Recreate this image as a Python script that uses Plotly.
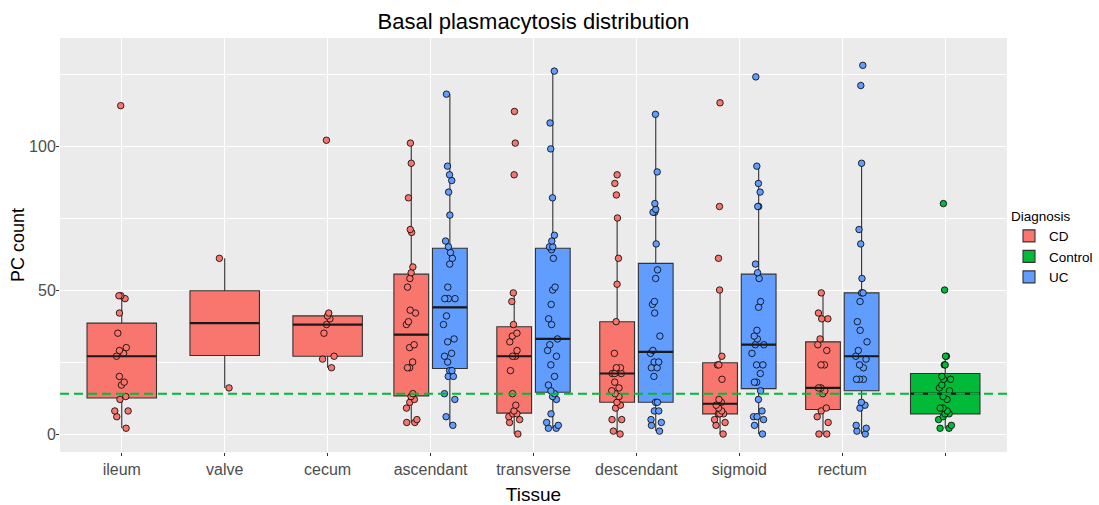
import numpy as np
import plotly.graph_objects as go

# ---------------- data ----------------
tissues = ["ileum", "valve", "cecum", "ascendant", "transverse",
           "descendant", "sigmoid", "rectum", ""]

cd_ileum = [114, 48, 48, 47, 42, 35, 30, 29, 28, 27, 20, 18, 17, 13, 12, 8, 8, 6, 2]
cd_valve = [61, 16]
cd_cecum = [102, 42, 41, 40, 38, 35, 27, 26, 23]
cd_ascendant = [101, 94, 82, 71, 70, 58, 56, 54, 51, 43, 42, 39, 38, 31, 30, 25, 23, 23,
                14, 13, 12, 11, 9, 5, 4, 4]
cd_transverse = [112, 101, 90, 49, 46, 38, 35, 34, 32, 29, 27, 27, 22, 14, 10, 8, 7, 7, 6, 5, 4, 0]
cd_descendant = [90, 87, 83, 75, 61, 52, 39, 28, 23, 23, 21, 21, 21, 18, 16, 15, 14, 13, 11,
                 10, 9, 5, 5, 1, 0]
cd_sigmoid = [115, 79, 61, 50, 27, 24, 24, 19, 12, 11, 10, 9, 8, 7, 7, 7, 5, 4, 3, 0]
cd_rectum = [49, 42, 40, 40, 33, 31, 29, 24, 24, 16, 16, 15, 14, 9, 8, 6, 4, 0, 0]

uc_ascendant = [118, 93, 90, 88, 84, 76, 67, 65, 63, 61, 59, 51, 47, 47, 47, 41, 38, 33, 32,
                28, 27, 25, 22, 22, 20, 20, 14, 12, 6, 3]
uc_transverse = [126, 108, 99, 82, 69, 67, 65, 65, 64, 61, 51, 50, 45, 40, 38, 33, 31, 29, 27,
                 24, 20, 17, 15, 14, 13, 12, 7, 4, 3, 2, 2]
uc_descendant = [111, 91, 80, 78, 77, 77, 66, 57, 54, 46, 45, 42, 34, 29, 28, 25, 25, 23, 23,
                 20, 11, 11, 8, 8, 5, 4, 3, 1]
uc_sigmoid = [124, 93, 87, 84, 79, 79, 59, 56, 54, 46, 44, 36, 34, 33, 31, 31, 28, 24, 24, 21,
              18, 18, 15, 12, 8, 6, 6, 5, 3, 0]
uc_rectum = [128, 121, 94, 71, 66, 54, 49, 49, 46, 39, 36, 32, 29, 27, 26, 24, 23, 19, 19, 19,
             11, 10, 9, 3, 2, 1, 0]

control_values = [80, 50, 27, 27, 24, 24, 20, 19, 19, 17, 16, 15, 13, 12, 9, 9, 8, 7, 7, 6, 5, 3, 2, 2]

groups = ["CD", "Control", "UC"]
colors = {"CD": "#F8766D", "Control": "#00BA38", "UC": "#619CFF"}

cd_data = {"ileum": cd_ileum, "valve": cd_valve, "cecum": cd_cecum,
           "ascendant": cd_ascendant, "transverse": cd_transverse,
           "descendant": cd_descendant, "sigmoid": cd_sigmoid, "rectum": cd_rectum}
uc_data = {"ascendant": uc_ascendant, "transverse": uc_transverse,
           "descendant": uc_descendant, "sigmoid": uc_sigmoid, "rectum": uc_rectum}
control_data = {"": control_values}
data_by_group = {"CD": cd_data, "Control": control_data, "UC": uc_data}

# ---------------- layout of boxes (ggplot dodge2 style) ----------------
DODGE = 0.75
PAD = 0.1


def box_stats(v):
    a = np.asarray(v, float)
    q1, med, q3 = np.percentile(a, [25, 50, 75])
    iqr = q3 - q1
    lo = a[a >= q1 - 1.5 * iqr].min()
    hi = a[a <= q3 + 1.5 * iqr].max()
    return q1, med, q3, lo, hi


entries = []
for ti, t in enumerate(tissues):
    present = [g for g in groups if t in data_by_group[g]]
    n = len(present)
    slot = DODGE / n
    for k, g in enumerate(present):
        center = (ti + 1) - DODGE / 2 + slot * (k + 0.5)
        width = slot * (1 - PAD)
        entries.append((g, t, center, width, data_by_group[g][t], n))

fig = go.Figure()
legend_done = set()
rank = {"CD": 1, "Control": 2, "UC": 3}

# boxes
for g, t, c, w, vals, n in entries:
    q1, med, q3, lo, hi = box_stats(vals)
    show = g not in legend_done
    legend_done.add(g)
    fig.add_trace(go.Box(
        x=[c], q1=[q1], median=[med], q3=[q3], lowerfence=[lo], upperfence=[hi],
        width=w, fillcolor=colors[g], line=dict(color="#333333", width=1.1),
        whiskerwidth=0, boxpoints=False, name=g, legendgroup=g,
        showlegend=show, legendrank=rank[g], hoverinfo="skip",
    ))

# medians (thicker, as in ggplot)
for g, t, c, w, vals, n in entries:
    med = float(np.median(vals))
    fig.add_trace(go.Scatter(
        x=[c - w / 2, c + w / 2], y=[med, med], mode="lines",
        line=dict(color="#1a1a1a", width=2.2), showlegend=False, hoverinfo="skip",
    ))

# jittered points
for g, t, c, w, vals, n in entries:
    fig.add_trace(go.Box(
        x=[c] * len(vals), y=vals, width=w,
        boxpoints="all", jitter=0.24 if n == 1 else 0.42, pointpos=0,
        fillcolor="rgba(0,0,0,0)", line=dict(color="rgba(0,0,0,0)", width=0),
        whiskerwidth=0,
        marker=dict(color=colors[g], size=6.5, line=dict(color="black", width=0.8)),
        showlegend=False, legendgroup=g, hoverinfo="y",
    ))

ctrl_median = float(np.median(control_values))
fig.add_shape(type="line", xref="paper", x0=0, x1=1, yref="y", y0=ctrl_median, y1=ctrl_median,
              line=dict(color="#00BA38", width=2, dash="9px,5px"), layer="above")

# y-axis title (placed as in the reference)
fig.add_annotation(text="PC count", textangle=-90, xref="paper", x=0, xanchor="center",
                   xshift=-42, yref="paper", y=0.5, yanchor="middle", showarrow=False,
                   font=dict(size=18, color="black"))

font_family = "Liberation Sans, Arial, sans-serif"
fig.update_layout(
    width=1099, height=505,
    paper_bgcolor="white", plot_bgcolor="#EBEBEB",
    margin=dict(l=60, r=92, t=38, b=53, autoexpand=False),
    font=dict(family=font_family, color="black"),
    title=dict(text="Basal plasmacytosis distribution", font=dict(size=22, color="black"),
               x=0.4854, xanchor="center", xref="container", y=1 - 21 / 505, yanchor="middle",
               yref="container"),
    showlegend=True,
    legend=dict(title=dict(text="Diagnosis", font=dict(size=13.5)), font=dict(size=13.5),
                xref="container", x=1009 / 1099, xanchor="left",
                yref="container", y=1 - 203 / 505, yanchor="top", bgcolor="rgba(0,0,0,0)",
                tracegroupgap=0, itemwidth=30),
    xaxis=dict(range=[0.4, 9.6], tickmode="array", tickvals=list(range(1, len(tissues) + 1)),
               ticktext=tissues, showgrid=True, gridcolor="white", gridwidth=1.1,
               ticks="outside", ticklen=3, tickcolor="#333333", tickwidth=1,
               tickfont=dict(size=16, color="#4D4D4D"), zeroline=False, showline=False,
               automargin=False,
               title=dict(text="Tissue", font=dict(size=19), standoff=11)),
    yaxis=dict(range=[-6.25, 137.5], tickmode="array", tickvals=[0, 50, 100],
               showgrid=True, gridcolor="white", gridwidth=1.1,
               minor=dict(tickvals=[25, 75, 125], showgrid=True, gridcolor="white",
                          gridwidth=0.5, ticks=""),
               ticks="outside", ticklen=3, tickcolor="#333333", tickwidth=1,
               ticklabelstandoff=-3,
               tickfont=dict(size=16, color="#4D4D4D"), zeroline=False, showline=False,
               automargin=False),
)

fig.write_html("out.html", config={"displayModeBar": False},
               post_script="document.body.style.margin='0px';")
